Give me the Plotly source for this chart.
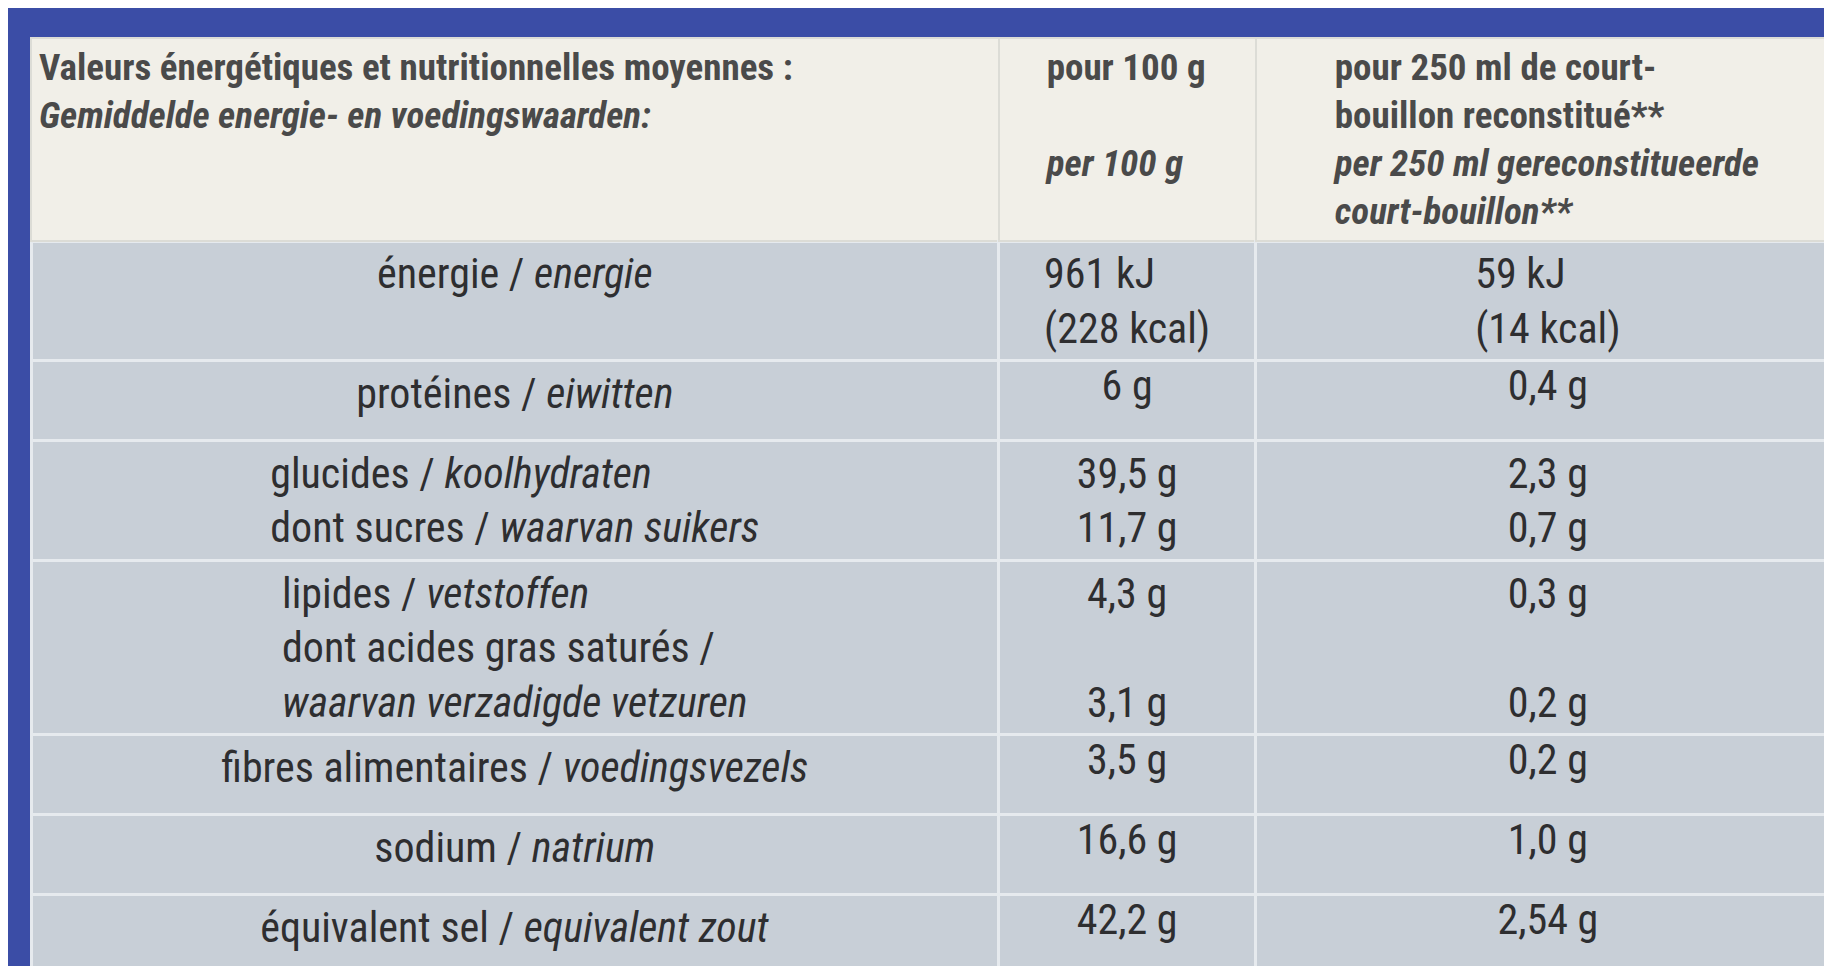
import plotly.graph_objects as go

# table content
header = [
    "<b>Valeurs énergétiques et nutritionnelles moyennes :</b><br><b><i>Gemiddelde energie- en voedingswaarden:</i></b><br> <br> ",
    "<b>pour 100 g</b><br> <br><b><i>per 100 g</i></b><br> ",
    "<b>pour 250 ml de court-</b><br><b>bouillon reconstitué**</b><br><b><i>per 250 ml gereconstitueerde</i></b><br><b><i>court-bouillon**</i></b>",
]
nutrients = [
    "énergie / <i>energie</i><br> ",
    "protéines / <i>eiwitten</i>",
    "glucides / <i>koolhydraten</i><br>dont sucres / <i>waarvan suikers</i>",
    "lipides / <i>vetstoffen</i><br>dont acides gras saturés /<br><i>waarvan verzadigde vetzuren</i>",
    "fibres alimentaires / <i>voedingsvezels</i>",
    "sodium / <i>natrium</i>",
    "équivalent sel / <i>equivalent zout</i>",
]
per_100g = ["961 kJ<br>(228 kcal)", "6 g", "39,5 g<br>11,7 g", "4,3 g<br> <br>3,1 g",
            "3,5 g", "16,6 g", "42,2 g"]
per_250ml = ["59 kJ<br>(14 kcal)", "0,4 g", "2,3 g<br>0,7 g", "0,3 g<br> <br>0,2 g",
             "0,2 g", "1,0 g", "2,54 g"]

font = "Liberation Sans Narrow, Roboto Condensed, Liberation Sans, sans-serif"

fig = go.Figure(go.Table(
    columnwidth=[828, 220, 500],
    header=dict(
        values=header,
        align=["left", "center", "center"],
        fill_color="#f1efe8",
        line_color="#dcdcd6",
        line_width=2,
        font=dict(family=font, size=37, color="#4a4a4a"),
        height=64,
    ),
    cells=dict(
        values=[nutrients, per_100g, per_250ml],
        align="center",
        fill_color="#c8cfd7",
        line_color="#e6eaee",
        line_width=3,
        font=dict(family=font, size=42, color="#2e2e30"),
        height=80,
    ),
))

fig.update_layout(
    width=1832, height=966,
    margin=dict(l=23, r=0, t=30, b=0),
    paper_bgcolor="#3b4da6",
)

fig.write_html("out.html")
